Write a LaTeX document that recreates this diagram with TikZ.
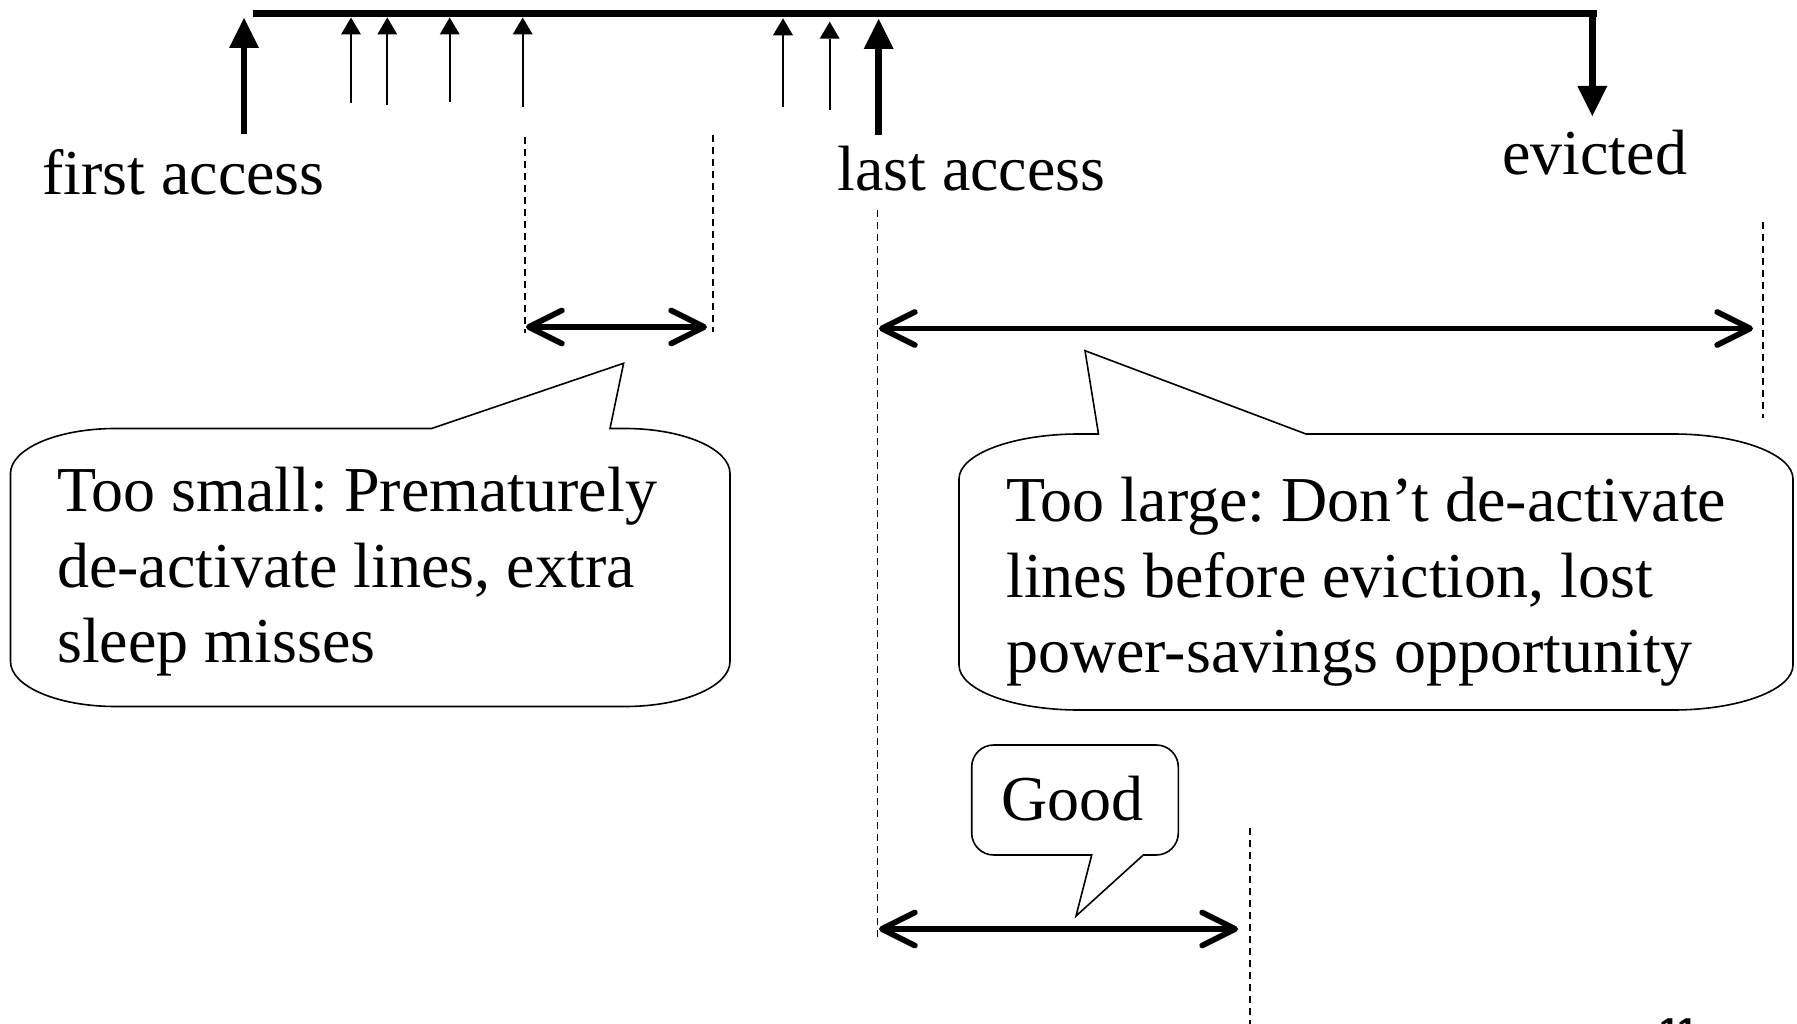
\documentclass[tikz,border=0pt]{standalone}
\usepackage{fontspec}
\setmainfont{Liberation Serif}
\newfontfamily\pagenumfont{Liberation Sans}
\usetikzlibrary{arrows.meta}
\frenchspacing
\tikzset{
  timeline/.style={line width=7pt},
  bigacc/.style={line width=6.5pt, -{Triangle[width=30pt,length=30pt,line width=0pt]}},
  smallacc/.style={line width=2pt, -{Triangle[width=20pt,length=17pt,line width=0pt]}},
  guide/.style={line width=1.8pt, dash pattern=on 7pt off 5pt},
  spanarrow/.style={line width=5.7pt, line cap=round,
    {Straight Barb[length=33pt,width=33pt,round]}-{Straight Barb[length=33pt,width=33pt,round]}},
  bubble/.style={line width=1.6pt, line join=miter, fill=white},
  lbl/.style={inner sep=0pt, anchor=base west, font=\fontsize{64}{75.5}\selectfont},
}
\begin{document}
\begin{tikzpicture}[x=1pt,y=-1pt]
\path[use as bounding box, fill=white] (0,0) rectangle (1797,1024);

% timeline
\coordinate (tl0) at (252.7,13.7);
\coordinate (tl1) at (1596.7,13.7);
\draw[timeline] (tl0) -- (tl1);

% access arrows
\coordinate (faB) at (244,134);   \coordinate (faT) at (244,18);
\coordinate (a1B) at (351,103.3); \coordinate (a1T) at (351,17.5);
\coordinate (a2B) at (387.3,105); \coordinate (a2T) at (387.3,17.5);
\coordinate (a3B) at (449.7,102.3); \coordinate (a3T) at (449.7,17.5);
\coordinate (a4B) at (522.7,106.7); \coordinate (a4T) at (522.7,17.5);
\coordinate (a5B) at (783,106.7); \coordinate (a5T) at (783,18.3);
\coordinate (a6B) at (829.7,110); \coordinate (a6T) at (829.7,21.7);
\coordinate (laB) at (878.7,135); \coordinate (laT) at (878.7,19);
\coordinate (evT) at (1592.3,14); \coordinate (evB) at (1592.3,116);

\draw[bigacc] (faB) -- (faT);
\draw[smallacc] (a1B) -- (a1T);
\draw[smallacc] (a2B) -- (a2T);
\draw[smallacc] (a3B) -- (a3T);
\draw[smallacc] (a4B) -- (a4T);
\draw[smallacc] (a5B) -- (a5T);
\draw[smallacc] (a6B) -- (a6T);
\draw[bigacc] (laB) -- (laT);
\draw[bigacc] (evT) -- (evB);

% labels
\node[lbl] (first) at (42,195) {first access};
\node[lbl] (last) at (837,191) {last access};
\node[lbl] (evicted) at (1502,175) {evicted};

% dashed guides
\coordinate (d1a) at (525,137);   \coordinate (d1b) at (525,333);
\coordinate (d2a) at (713,135);   \coordinate (d2b) at (713,332);
\coordinate (d3a) at (877.5,210); \coordinate (d3b) at (877.5,940);
\coordinate (d4a) at (1762.7,222); \coordinate (d4b) at (1762.7,418);
\coordinate (d5a) at (1250,828);  \coordinate (d5b) at (1250,1030);
\draw[guide] (d1a) -- (d1b);
\draw[guide] (d2a) -- (d2b);
\draw[guide] (d3a) -- (d3b);
\draw[guide] (d4a) -- (d4b);
\draw[guide] (d5a) -- (d5b);

% span arrows
\coordinate (s1a) at (526,327);   \coordinate (s1b) at (707,327);
\coordinate (s2a) at (879,328.5); \coordinate (s2b) at (1753,328.5);
\coordinate (s3a) at (879,929);   \coordinate (s3b) at (1238,929);
\draw[spanarrow] (s1a) -- (s1b);
\draw[spanarrow] (s2a) -- (s2b);
\draw[spanarrow] (s3a) -- (s3b);

% bubble 1 (too small)
\draw[bubble] (431.6,428.5) -- (623.6,363.3) -- (610,428.5) -- (625,428.5)
  arc[start angle=-90,end angle=0,x radius=105,y radius=45] -- (730,661.5)
  arc[start angle=0,end angle=90,x radius=105,y radius=45] -- (115.5,706.5)
  arc[start angle=90,end angle=180,x radius=105,y radius=45] -- (10.5,473.5)
  arc[start angle=180,end angle=270,x radius=105,y radius=45] -- cycle;
\node[lbl] (small) at (57,511.7) {\parbox[t]{660pt}{Too small: Prematurely\\de-activate lines, extra\\sleep misses}};

% bubble 2 (too large)
\draw[bubble] (1098.5,434) -- (1085,350.7) -- (1306,434) -- (1673,434)
  arc[start angle=-90,end angle=0,x radius=120,y radius=45] -- (1793,665)
  arc[start angle=0,end angle=90,x radius=120,y radius=45] -- (1079,710)
  arc[start angle=90,end angle=180,x radius=120,y radius=45] -- (959,479)
  arc[start angle=180,end angle=270,x radius=120,y radius=45] -- cycle;
\node[lbl] (large) at (1006,521.7) {\parbox[t]{780pt}{Too large: Don’t de-activate\\lines before eviction, lost\\power-savings opportunity}};

% bubble 3 (good)
\draw[bubble] (1091.7,855) -- (1076,916) -- (1143.3,855) -- (1156.3,855)
  arc[start angle=90,end angle=0,radius=22] -- (1178.3,767)
  arc[start angle=0,end angle=-90,radius=22] -- (993.7,745)
  arc[start angle=-90,end angle=-180,radius=22] -- (971.7,833)
  arc[start angle=180,end angle=90,radius=22] -- cycle;
\node[lbl] (good) at (1001,820.7) {Good};

% page number (cut off at the bottom edge, as in the reference)
\node[inner sep=0pt, anchor=base west, font=\pagenumfont\bfseries\fontsize{36}{40}\selectfont] (pg) at (1659,1043) {11};
\end{tikzpicture}
\end{document}
